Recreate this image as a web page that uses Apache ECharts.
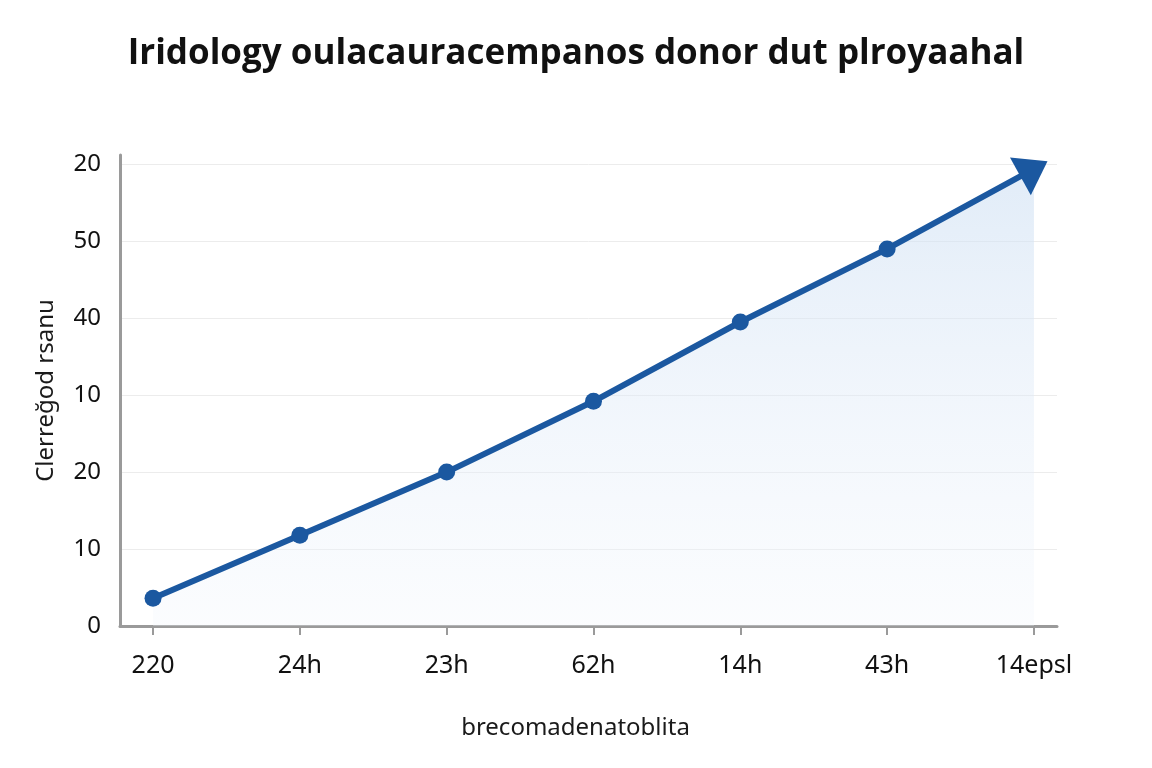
<!DOCTYPE html>
<html>
<head>
<meta charset="utf-8">
<script src="https://cdn.jsdelivr.net/npm/echarts@6/dist/echarts.min.js"></script>
<style>
    html, body { margin: 0; padding: 0; background: #fff; }
    #main { width: 1152px; height: 768px; }
</style>
</head>
<body>
<div id="main"></div>
<script>
    var titleText = 'Iridology oulacauracempanos donor dut plroyaahal';
    var xName = 'brecomadenatoblita';
    var yName = 'Clerreğod rsanu';

    var categories = ['220', '24h', '23h', '62h', '14h', '43h', '14epsl'];
    var values = [3.6, 11.8, 20.0, 29.2, 39.5, 49.0, 59.4];
    var yTickValues = [0, 10, 20, 30, 40, 50, 60];
    var yTickLabels = ['0', '10', '20', '10', '40', '50', '20'];

    var lineColor = '#1b58a0';
    var myChart = echarts.init(document.getElementById('main'));

    var seriesData = values.map(function (v, i) {
        var item = { value: [i, v] };
        if (i === values.length - 1) {
            // arrow head at the end of the line
            item.symbol = 'triangle';
            item.symbolSize = [43, 31];
            item.symbolRotate = -61;
        }
        return item;
    });
    var xTicks = categories.map(function (c, i) { return i; });

    var option = {
        backgroundColor: '#fff',
        title: {
            text: titleText,
            left: 'center',
            top: 32,
            textStyle: {
                fontFamily: 'Open Sans',
                fontWeight: 'bold',
                fontSize: 35,
                color: '#111'
            }
        },
        grid: {
            left: 120,
            right: 95,
            top: 155,
            bottom: 142
        },
        xAxis: {
            type: 'value',
            min: -0.225,
            max: 6.157,
            name: xName,
            nameLocation: 'middle',
            nameGap: 90,
            nameTextStyle: {
                fontFamily: 'Noto Sans',
                fontSize: 24,
                color: '#1a1a1a',
                padding: [0, 26, 0, 0]
            },
            axisLine: { lineStyle: { color: '#9a9a9a', width: 3 } },
            axisTick: {
                customValues: xTicks,
                length: 9,
                lineStyle: { color: '#9a9a9a', width: 2 }
            },
            axisLabel: {
                customValues: xTicks,
                margin: 27,
                fontFamily: 'Noto Sans',
                fontSize: 25,
                color: '#111',
                formatter: function (v) { return categories[Math.round(v)]; }
            },
            splitLine: { show: false }
        },
        yAxis: {
            type: 'value',
            min: 0,
            max: 61.2,
            name: yName,
            nameLocation: 'middle',
            nameGap: 62,
            nameTextStyle: {
                fontFamily: 'Noto Sans',
                fontSize: 24,
                color: '#1a1a1a'
            },
            axisLine: { show: true, onZero: false, lineStyle: { color: '#9a9a9a', width: 3 } },
            axisTick: { show: false },
            axisLabel: {
                customValues: yTickValues,
                margin: 19,
                fontFamily: 'Noto Sans',
                fontSize: 24,
                color: '#111',
                formatter: function (v) { return yTickLabels[Math.round(v / 10)]; }
            },
            splitLine: {
                showMinLine: false,
                showMaxLine: false,
                lineStyle: { color: '#ececec', width: 1 }
            }
        },
        series: [{
            type: 'line',
            data: seriesData,
            symbol: 'circle',
            symbolSize: 17,
            showAllSymbol: true,
            itemStyle: { color: lineColor },
            lineStyle: { color: lineColor, width: 6 },
            areaStyle: {
                color: new echarts.graphic.LinearGradient(0, 0, 0, 1, [
                    { offset: 0, color: 'rgba(205,223,243,0.85)' },
                    { offset: 1, color: 'rgba(240,245,252,0.4)' }
                ])
            },
            z: 3
        }]
    };
    myChart.setOption(option);
</script>
</body>
</html>
